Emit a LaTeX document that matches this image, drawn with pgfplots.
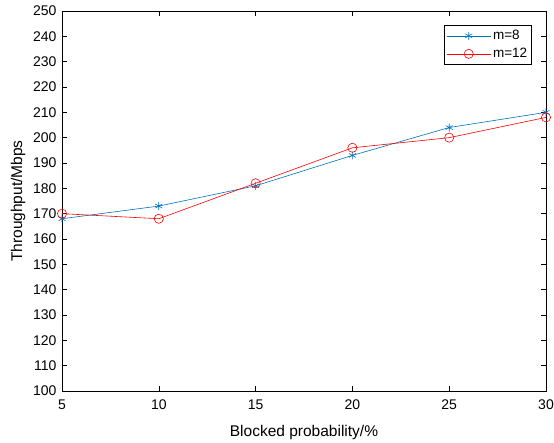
\documentclass[border=0pt]{standalone}
\usepackage{pgfplots}
\pgfplotsset{compat=1.18}
\usepackage{fontspec}
\setmainfont{Liberation Sans}
\definecolor{mblue}{rgb}{0,0.447,0.741}
\begin{document}
\begin{tikzpicture}
\begin{axis}[
  scale only axis,
  width=484pt, height=380pt,
  xmin=5, xmax=30, ymin=100, ymax=250,
  xtick={5,10,...,30}, ytick={100,110,...,250},
  tick align=inside,
  major tick length=5pt,
  tick style={black, line width=0.5pt},
  axis line style={line width=0.6pt},
  /pgf/number format/assume math mode=true,
  ticklabel style={font=\fontsize{14}{16}\selectfont},
  xticklabel style={yshift=-5pt},
  yticklabel style={xshift=-2pt},
  xlabel={Blocked probability/\%},
  ylabel={Throughput/Mbps},
  label style={font=\fontsize{15.5}{18}\selectfont},
  xlabel style={at={(axis description cs:0.5,-0.1079)}, anchor=center},
  ylabel style={at={(axis description cs:-0.0909,0.5)}, anchor=center},
  legend style={at={(0.971,0.963)}, anchor=north east, font=\fontsize{13.5}{15}\selectfont, draw=black, line width=0.6pt, inner xsep=2.5pt, inner ysep=2pt, row sep=1pt, nodes={inner sep=2pt, text height=10pt, text depth=3pt}},
  legend cell align=left,
  legend image code/.code={\draw[#1] (0pt,0pt) -- (44pt,0pt); \path[#1,mark repeat=2,mark phase=2] plot coordinates {(0pt,0pt) (22pt,0pt) (44pt,0pt)};},
  clip=false,
]
\addplot[color=mblue, line width=0.6pt, mark=asterisk, mark size=4pt, mark options={line width=0.6pt}] coordinates {(5,168) (10,173) (15,181) (20,193) (25,204) (30,210)};
\addlegendentry{m=8}
\addplot[color=red, line width=0.6pt, mark=o, mark size=4.6pt, mark options={line width=0.6pt}] coordinates {(5,170) (10,168) (15,182) (20,196) (25,200) (30,208)};
\addlegendentry{m=12}
\coordinate (sw) at (rel axis cs:0,0);
\coordinate (ne) at (rel axis cs:1,1);
\end{axis}
\pgfresetboundingbox
\path ([xshift=-62pt,yshift=-51pt]sw) rectangle ([xshift=8pt,yshift=11pt]ne);
\end{tikzpicture}
\end{document}
